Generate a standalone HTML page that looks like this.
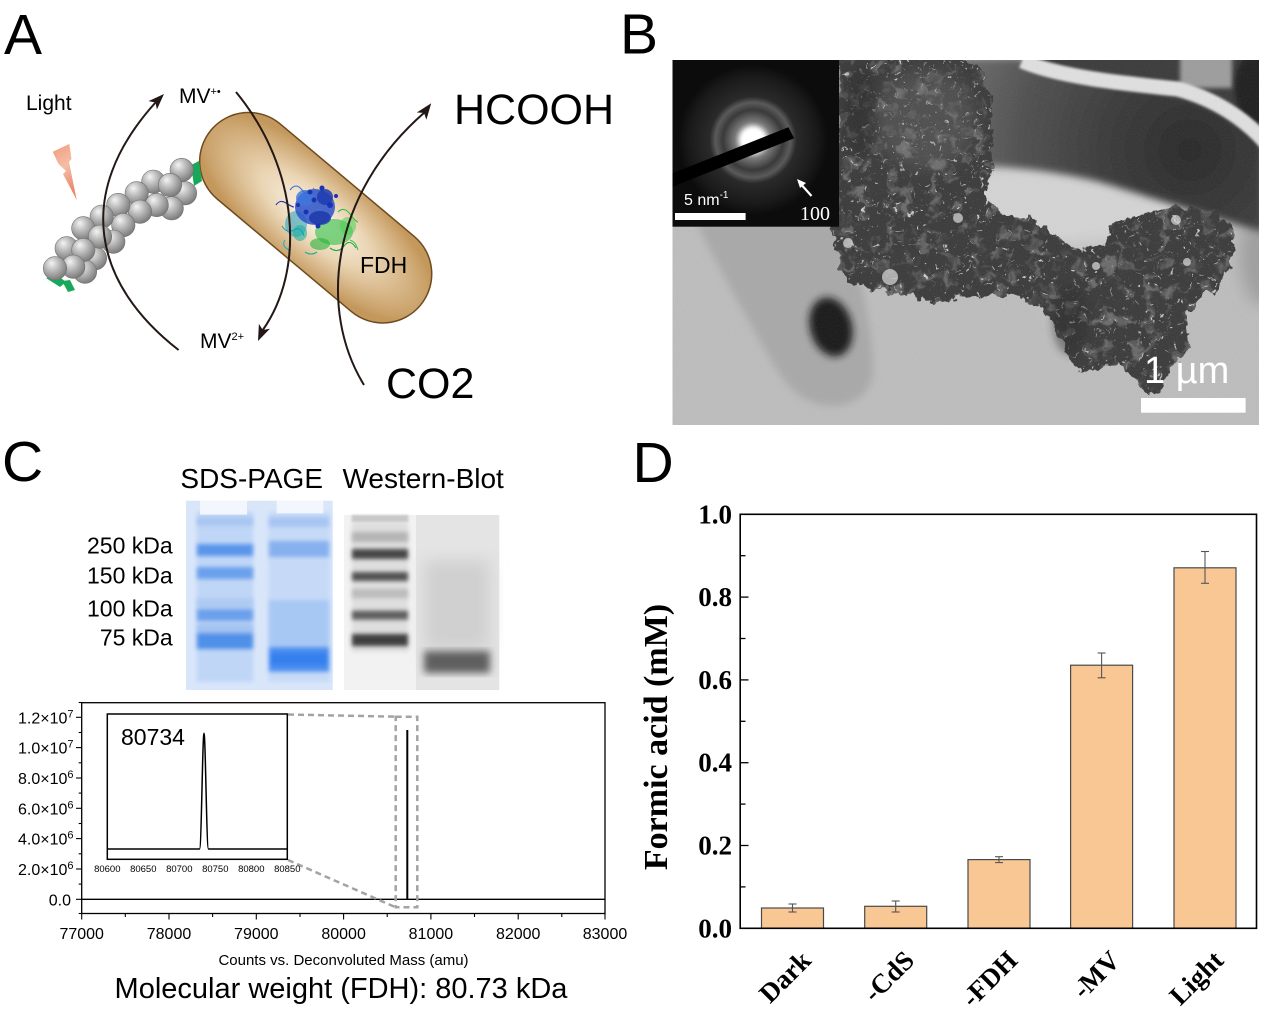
<!DOCTYPE html>
<html><head><meta charset="utf-8"><style>
html,body{margin:0;padding:0;background:#fff;}
svg{display:block;}
</style></head><body>
<svg width="1269" height="1010" viewBox="0 0 1269 1010" xmlns="http://www.w3.org/2000/svg" font-family="'Liberation Sans', Arial, sans-serif">
<defs>
  <radialGradient id="sph" cx="0.4" cy="0.35" r="0.65" fx="0.35" fy="0.28">
    <stop offset="0" stop-color="#f4f4f4"/>
    <stop offset="0.45" stop-color="#bdbdbd"/>
    <stop offset="1" stop-color="#7c7c7c"/>
  </radialGradient>
  <radialGradient id="cap" cx="0.5" cy="0.5" r="0.55">
    <stop offset="0" stop-color="#fcf7ef"/>
    <stop offset="0.45" stop-color="#ead5b4"/>
    <stop offset="1" stop-color="#c4985c"/>
  </radialGradient>
  <linearGradient id="bolt" x1="0" y1="0" x2="0.3" y2="1">
    <stop offset="0" stop-color="#f19b7d"/>
    <stop offset="0.5" stop-color="#f5bda6"/>
    <stop offset="1" stop-color="#e8896a"/>
  </linearGradient>
  <radialGradient id="cellg" gradientUnits="userSpaceOnUse" cx="1190" cy="150" r="230">
    <stop offset="0" stop-color="#262626"/>
    <stop offset="0.4" stop-color="#393939"/>
    <stop offset="0.75" stop-color="#4e4e4e"/>
    <stop offset="1" stop-color="#666"/>
  </radialGradient>
  <radialGradient id="saed" gradientUnits="userSpaceOnUse" cx="753" cy="140" r="75">
    <stop offset="0" stop-color="#ffffff"/>
    <stop offset="0.12" stop-color="#f0f0f0"/>
    <stop offset="0.25" stop-color="#777"/>
    <stop offset="0.4" stop-color="#3a3a3a"/>
    <stop offset="0.5" stop-color="#5a5a5a"/>
    <stop offset="0.58" stop-color="#2a2a2a"/>
    <stop offset="0.85" stop-color="#1a1a1a"/>
    <stop offset="1" stop-color="#0c0c0c"/>
  </radialGradient>
  <filter id="b1" x="-20%" y="-20%" width="140%" height="140%"><feGaussianBlur stdDeviation="1.2"/></filter>
  <filter id="b2" x="-20%" y="-20%" width="140%" height="140%"><feGaussianBlur stdDeviation="2.2"/></filter>
  <filter id="b4" x="-20%" y="-20%" width="140%" height="140%"><feGaussianBlur stdDeviation="4"/></filter>
  <filter id="b8" x="-30%" y="-30%" width="160%" height="160%"><feGaussianBlur stdDeviation="8"/></filter>
  <filter id="grain" x="0" y="0" width="1" height="1">
    <feTurbulence type="fractalNoise" baseFrequency="0.8" numOctaves="1" seed="2"/>
    <feColorMatrix type="saturate" values="0"/>
  </filter>
  <filter id="speck" x="0" y="0" width="1" height="1">
    <feTurbulence type="fractalNoise" baseFrequency="0.25" numOctaves="2" seed="5"/>
    <feColorMatrix type="matrix" values="0 0 0 0 0.85  0 0 0 0 0.85  0 0 0 0 0.85  10 0 0 0 -6.9"/>
  </filter>
  <filter id="blot" x="0" y="0" width="1" height="1">
    <feTurbulence type="fractalNoise" baseFrequency="0.07" numOctaves="3" seed="11"/>
    <feColorMatrix type="matrix" values="0 0 0 0 0.45  0 0 0 0 0.45  0 0 0 0 0.45  4 0 0 0 -2.1"/>
  </filter>
  <filter id="rough" x="-10%" y="-10%" width="120%" height="120%">
    <feTurbulence type="fractalNoise" baseFrequency="0.09" numOctaves="3" seed="4" result="n"/>
    <feDisplacementMap in="SourceGraphic" in2="n" scale="16" xChannelSelector="R" yChannelSelector="G"/>
  </filter>
  <clipPath id="cb"><rect x="672.5" y="60" width="586.5" height="365"/></clipPath>
  <clipPath id="aggclip">
    <path d="M836,150 L840,58 L975,58 L990,95 L995,150 L985,200 L1000,212 L1030,218 L1060,240 L1085,250 L1105,245 L1113,222 L1140,215 L1175,205 L1215,212 L1235,230 L1232,265 L1215,290 L1195,300 L1185,318 L1190,345 L1175,365 L1160,385 L1150,398 L1135,380 L1120,362 L1100,370 L1080,372 L1068,355 L1050,318 L1030,300 L990,292 L960,298 L935,305 L915,295 L880,290 L850,280 L838,260 L830,230 Z"/>
  </clipPath>
</defs>
<rect width="1269" height="1010" fill="#fff"/>

<!-- ================= PANEL A ================= -->
<text x="4" y="54" font-size="57">A</text>
<text x="26" y="110" font-size="21">Light</text>
<text x="179" y="103" font-size="21">MV<tspan font-size="11" dy="-8">+•</tspan></text>
<text x="200" y="348" font-size="21">MV<tspan font-size="11" dy="-8">2+</tspan></text>
<text x="454" y="124" font-size="43">HCOOH</text>
<text x="386" y="398" font-size="43">CO2</text>

<!-- lightning -->
<path d="M52.7,151.7 L69.3,144 L71.5,159 L69,162 L76.7,200 L63,174 L66,171 L58.5,164 Z" fill="url(#bolt)"/>

<!-- capsule -->
<g transform="translate(315.7,217.7) rotate(40)">
  <rect x="-136.5" y="-49" width="273" height="98" rx="49" ry="49" fill="url(#cap)" stroke="#6e4b1f" stroke-width="1.5"/>
</g>
<text x="360" y="273" font-size="23">FDH</text>

<!-- protein blob -->
<g>
  <ellipse cx="296" cy="224" rx="11" ry="13" fill="#1fa0bf" opacity="0.55"/>
  <ellipse cx="334" cy="232" rx="19" ry="13" fill="#2fbf45" opacity="0.6"/>
  <ellipse cx="348" cy="226" rx="8" ry="9" fill="#4ccf55" opacity="0.55"/>
  <ellipse cx="315" cy="207" rx="20" ry="18" fill="#2a52c8" opacity="0.85"/>
  <ellipse cx="305" cy="198" rx="9" ry="8" fill="#3f77dc" opacity="0.8"/>
  <ellipse cx="325" cy="197" rx="8" ry="8" fill="#1d3cb0" opacity="0.85"/>
  <ellipse cx="320" cy="218" rx="11" ry="7" fill="#1c35a8" opacity="0.8"/>
  <ellipse cx="300" cy="233" rx="7" ry="8" fill="#1db0a0" opacity="0.6"/>
  <ellipse cx="320" cy="244" rx="10" ry="6" fill="#27b33a" opacity="0.6"/>
  <g fill="none" stroke-width="1.1">
    <path d="M290,190 q6,-8 12,0 t12,-2" stroke="#3b6fd8"/>
    <path d="M282,226 q5,8 12,4 t10,6" stroke="#16a0c0"/>
    <path d="M330,248 q8,6 14,-2 t12,2" stroke="#22a836"/>
    <path d="M338,212 q6,-6 12,2 t8,8" stroke="#33bb44"/>
    <path d="M276,205 q4,-6 10,-2 t8,4" stroke="#2233aa"/>
    <path d="M305,252 q6,4 12,0" stroke="#1cb090"/>
    <path d="M285,240 q-4,6 4,10" stroke="#20b0c8"/>
    <path d="M350,240 q6,2 8,10" stroke="#44c455"/>
  </g>
  <g fill="#1a33b5">
    <circle cx="310" cy="192" r="2.5"/><circle cx="322" cy="188" r="2.5"/><circle cx="330" cy="205" r="3"/>
    <circle cx="306" cy="212" r="2.5"/><circle cx="318" cy="226" r="2.5"/><circle cx="298" cy="205" r="2"/>
    <circle cx="336" cy="196" r="2"/><circle cx="314" cy="200" r="2.5"/>
  </g>
</g>

<!-- spheres -->
<g fill="#19a85a">
  <polygon points="191,165 199,161 202,181 194,186"/>
  <polygon points="46,278 57,275 66,282 60,287"/>
  <polygon points="62,281 70,280 75,290 68,292"/>
</g>
<g fill="url(#sph)" stroke="#727272" stroke-width="0.6">
  <circle cx="185" cy="193.3" r="11.7"/>
  <circle cx="181.7" cy="170" r="11.7"/>
  <circle cx="153.3" cy="181.7" r="11.7"/>
  <circle cx="171.7" cy="208.3" r="11.7"/>
  <circle cx="156.7" cy="205" r="11.7"/>
  <circle cx="170" cy="185" r="11.7"/>
  <circle cx="136.7" cy="193.3" r="11.7"/>
  <circle cx="140" cy="211.7" r="11.7"/>
  <circle cx="118.3" cy="205" r="11.7"/>
  <circle cx="123.3" cy="225" r="11.7"/>
  <circle cx="101.7" cy="216.7" r="11.7"/>
  <circle cx="113.3" cy="241.7" r="11.7"/>
  <circle cx="83.3" cy="228.3" r="11.7"/>
  <circle cx="95" cy="258.3" r="11.7"/>
  <circle cx="100" cy="236.7" r="11.7"/>
  <circle cx="85" cy="271.7" r="11.7"/>
  <circle cx="66.7" cy="248.3" r="11.7"/>
  <circle cx="83.3" cy="250" r="11.7"/>
  <circle cx="73.3" cy="266.7" r="11.7"/>
  <circle cx="55" cy="268.3" r="11.7"/>
</g>

<!-- arrows -->
<g fill="none" stroke="#231815" stroke-width="2">
  <path d="M178.6,350 C95,285 72,195 155.5,102.5"/>
  <path d="M236,92 C300,170 305,270 262.8,330"/>
  <path d="M364,385 C318,310 330,195 424,112.9"/>
</g>
<g fill="#231815">
  <polygon points="164,94 148.5,101.1 155.5,102.5 156.9,109.5"/>
  <polygon points="258,341 258.9,323.9 262.8,330 269.9,328.7"/>
  <polygon points="431.2,103.3 416.8,112.5 424,112.9 426.4,119.7"/>
</g>

<!-- ================= PANEL B ================= -->
<text x="620" y="53.3" font-size="57">B</text>
<g clip-path="url(#cb)">
  <rect x="672" y="60" width="588" height="366" fill="#bdbdbd"/>
  <!-- lighter area below cell -->
  <ellipse cx="1070" cy="200" rx="120" ry="45" fill="#d4d4d4" filter="url(#b8)"/>
  <ellipse cx="1100" cy="290" rx="60" ry="40" fill="#c6c6c6" filter="url(#b8)"/>
  <!-- right edge cell continuation -->
  <ellipse cx="1262" cy="255" rx="22" ry="50" fill="#9e9e9e" filter="url(#b8)"/>
  <!-- dark cell -->
  <path d="M839,58 L1020,58 C1060,78 1120,84 1175,92 C1215,102 1245,122 1264,142 L1264,232 C1220,220 1160,200 1100,182 C1060,172 1020,168 990,166 C950,166 900,170 839,176 Z" fill="url(#cellg)" filter="url(#b4)"/>
  <!-- above rim -->
  <path d="M1020,56 C1060,72 1120,78 1178,84 C1215,94 1245,114 1264,138 L1264,56 Z" fill="#383838"/>
  <rect x="1180" y="56" width="52" height="32" fill="#9c9c9c" filter="url(#b2)"/>
  <ellipse cx="1255" cy="88" rx="20" ry="36" fill="#1c1c1c" filter="url(#b2)"/>
  <!-- rim -->
  <path d="M1022,61 C1060,77 1120,83 1178,89 C1215,99 1245,119 1266,143" fill="none" stroke="#e0e0e0" stroke-width="15" filter="url(#b1)"/>
  <!-- left cell -->
  <path d="M696,222 L842,222 C862,280 876,340 872,378 C866,402 840,410 818,404 C796,398 782,380 768,355 C745,315 720,270 696,222 Z" fill="#a8a8a8" filter="url(#b4)"/>
  <!-- aggregate -->
  <g filter="url(#rough)">
    <g clip-path="url(#aggclip)">
      <rect x="820" y="56" width="430" height="350" fill="#393939"/>
      <rect x="820" y="56" width="430" height="350" filter="url(#blot)" opacity="0.4"/>
      <rect x="820" y="56" width="430" height="350" filter="url(#speck)" opacity="0.8"/>
    </g>
  </g>
  <ellipse cx="925" cy="120" rx="50" ry="50" fill="#7a7a7a" opacity="0.3" filter="url(#b8)"/>
  <ellipse cx="860" cy="110" rx="16" ry="45" fill="#262626" opacity="0.5" filter="url(#b4)"/>
  <ellipse cx="1070" cy="320" rx="18" ry="35" fill="#262626" opacity="0.45" filter="url(#b4)"/>
  <g fill="#d4d4d4" opacity="0.75">
    <circle cx="890" cy="277" r="8"/><circle cx="958" cy="218" r="5"/>
    <circle cx="1096" cy="266" r="4"/><circle cx="1187" cy="262" r="4"/>
    <circle cx="1176" cy="220" r="5"/><circle cx="848" cy="243" r="5"/>
  </g>
  <!-- dark blob -->
  <ellipse cx="831" cy="327" rx="21" ry="30" transform="rotate(-15 831 327)" fill="#141414" filter="url(#b4)"/>
  <!-- grain -->
  <rect x="672" y="60" width="588" height="366" filter="url(#grain)" opacity="0.12"/>
  <!-- SAED inset -->
  <rect x="672.5" y="60" width="166.5" height="166.7" fill="url(#saed)"/>
  <circle cx="753" cy="140" r="13" fill="#fff" filter="url(#b2)"/>
  <polygon points="672.5,173.3 788.4,127.3 794.2,138.3 672.5,186.7" fill="#000"/>
  <text x="684" y="205" font-size="16" fill="#fff">5 nm<tspan font-size="10" dy="-7">-1</tspan></text>
  <rect x="675" y="213" width="70.6" height="7" fill="#fff"/>
  <text x="800" y="220" font-size="20" fill="#fff" font-family="'Liberation Serif', 'Times New Roman', serif">100</text>
  <line x1="811.5" y1="196" x2="799" y2="182" stroke="#fff" stroke-width="2.2"/>
  <polygon points="797,179 806,183 800,188" fill="#fff"/>
  <!-- scale bar -->
  <text x="1144" y="383" font-size="38" fill="#fff">1 µm</text>
  <rect x="1141" y="398" width="104.6" height="14.7" fill="#fff"/>
</g>

<!-- ================= PANEL C ================= -->
<text x="2" y="481" font-size="57">C</text>
<text x="180.4" y="488" font-size="28">SDS-PAGE</text>
<text x="342.5" y="488" font-size="28">Western-Blot</text>
<g font-size="23" text-anchor="end">
  <text x="172.7" y="553.3">250 kDa</text>
  <text x="172.7" y="583.3">150 kDa</text>
  <text x="172.7" y="616.7">100 kDa</text>
  <text x="172.7" y="645.7">75 kDa</text>
</g>
<!-- SDS gel -->
<rect x="186" y="500.7" width="146.7" height="189.3" fill="#d9e6fa"/>
<rect x="196.7" y="512" width="56.6" height="170" fill="#c0d6f6" filter="url(#b2)"/>
<rect x="268.3" y="512" width="61.7" height="170" fill="#c6daf7" filter="url(#b2)"/>
<rect x="200" y="500.7" width="47" height="14" fill="#f3f7fd"/>
<rect x="276.7" y="500.7" width="46.6" height="12.6" fill="#f3f7fd"/>
<g filter="url(#b2)">
  <rect x="197" y="517" width="56" height="9" fill="#a9c6f2"/>
  <rect x="197" y="544" width="56" height="12" fill="#5a95ea"/>
  <rect x="197" y="567" width="56" height="12" fill="#6aa0ec"/>
  <rect x="197" y="609" width="56" height="12" fill="#6aa0ec"/>
  <rect x="197" y="598" width="56" height="10" fill="#aecaf3"/>
  <rect x="197" y="624" width="56" height="9" fill="#a3c3f2"/>
  <rect x="197" y="633" width="56" height="16" fill="#5090e8"/>
  <rect x="269" y="517" width="60" height="10" fill="#a7c5f2"/>
  <rect x="269" y="541" width="60" height="16" fill="#86b0ee"/>
  <rect x="269" y="600" width="60" height="46" fill="#a8c8f4"/>
  <rect x="269" y="646.7" width="60" height="25" fill="#4b8ff0"/>
  <rect x="270" y="653" width="58" height="12" fill="#3580ee"/>
</g>
<!-- Western blot -->
<rect x="344" y="515" width="72" height="175" fill="#f2f2f2"/>
<rect x="416" y="515" width="83.3" height="175" fill="#e4e4e4"/>
<rect x="351.7" y="522" width="56.6" height="130" fill="#dedede" filter="url(#b2)"/>
<rect x="351.7" y="515" width="56.6" height="7" fill="#c8c8c8" filter="url(#b1)"/>
<g filter="url(#b2)">
  <rect x="352" y="532" width="56" height="10" fill="#b5b5b5"/>
  <rect x="352" y="549" width="56" height="10" fill="#464646"/>
  <rect x="352" y="572" width="56" height="9" fill="#525252"/>
  <rect x="352" y="589" width="56" height="9" fill="#bcbcbc"/>
  <rect x="352" y="610.7" width="56" height="9" fill="#5e5e5e"/>
  <rect x="352" y="634" width="56" height="12" fill="#404040"/>
</g>
<rect x="424" y="560" width="66" height="90" fill="#d0d0d0" filter="url(#b8)"/>
<rect x="424" y="651" width="66" height="22" fill="#5e5e5e" filter="url(#b4)"/>

<!-- MS chart -->
<g stroke="#000" stroke-width="1.3" fill="none">
  <rect x="81.7" y="702.7" width="523.3" height="210.8"/>
</g>
<!-- y ticks -->
<g stroke="#000" stroke-width="1.1">
  <line x1="76" y1="717.3" x2="81.7" y2="717.3"/>
  <line x1="76" y1="747.6" x2="81.7" y2="747.6"/>
  <line x1="76" y1="778" x2="81.7" y2="778"/>
  <line x1="76" y1="808.3" x2="81.7" y2="808.3"/>
  <line x1="76" y1="838.6" x2="81.7" y2="838.6"/>
  <line x1="76" y1="869" x2="81.7" y2="869"/>
  <line x1="76" y1="899.3" x2="81.7" y2="899.3"/>
  <line x1="78.7" y1="702.5" x2="81.7" y2="702.5"/>
  <line x1="78.7" y1="732.5" x2="81.7" y2="732.5"/>
  <line x1="78.7" y1="762.8" x2="81.7" y2="762.8"/>
  <line x1="78.7" y1="793.1" x2="81.7" y2="793.1"/>
  <line x1="78.7" y1="823.5" x2="81.7" y2="823.5"/>
  <line x1="78.7" y1="853.8" x2="81.7" y2="853.8"/>
  <line x1="78.7" y1="884.1" x2="81.7" y2="884.1"/>
  <line x1="78.7" y1="913.5" x2="81.7" y2="913.5"/>
  <!-- x ticks -->
  <line x1="81.7" y1="913.5" x2="81.7" y2="919.5"/>
  <line x1="169" y1="913.5" x2="169" y2="919.5"/>
  <line x1="256.3" y1="913.5" x2="256.3" y2="919.5"/>
  <line x1="343.6" y1="913.5" x2="343.6" y2="919.5"/>
  <line x1="430.9" y1="913.5" x2="430.9" y2="919.5"/>
  <line x1="518.2" y1="913.5" x2="518.2" y2="919.5"/>
  <line x1="605" y1="913.5" x2="605" y2="919.5"/>
  <line x1="125.3" y1="913.5" x2="125.3" y2="917"/>
  <line x1="212.6" y1="913.5" x2="212.6" y2="917"/>
  <line x1="300" y1="913.5" x2="300" y2="917"/>
  <line x1="387.2" y1="913.5" x2="387.2" y2="917"/>
  <line x1="474.5" y1="913.5" x2="474.5" y2="917"/>
  <line x1="561.8" y1="913.5" x2="561.8" y2="917"/>
</g>
<g font-size="16" text-anchor="end">
  <text x="73.5" y="723.3">1.2×10<tspan font-size="11" dy="-6">7</tspan></text>
  <text x="73.5" y="753.6">1.0×10<tspan font-size="11" dy="-6">7</tspan></text>
  <text x="73.5" y="784">8.0×10<tspan font-size="11" dy="-6">6</tspan></text>
  <text x="73.5" y="814.3">6.0×10<tspan font-size="11" dy="-6">6</tspan></text>
  <text x="73.5" y="844.6">4.0×10<tspan font-size="11" dy="-6">6</tspan></text>
  <text x="73.5" y="875">2.0×10<tspan font-size="11" dy="-6">6</tspan></text>
  <text x="71" y="905.3">0.0</text>
</g>
<g font-size="16" text-anchor="middle">
  <text x="81.7" y="939">77000</text>
  <text x="169" y="939">78000</text>
  <text x="256.3" y="939">79000</text>
  <text x="343.6" y="939">80000</text>
  <text x="430.9" y="939">81000</text>
  <text x="518.2" y="939">82000</text>
  <text x="605" y="939">83000</text>
</g>
<text x="343.5" y="965" font-size="15" text-anchor="middle">Counts vs. Deconvoluted Mass (amu)</text>
<text x="341" y="998" font-size="29" text-anchor="middle">Molecular weight (FDH): 80.73 kDa</text>

<!-- zero line and peak -->
<line x1="81.7" y1="899.3" x2="605" y2="899.3" stroke="#000" stroke-width="1.4"/>
<line x1="407.3" y1="899.3" x2="407.3" y2="730" stroke="#000" stroke-width="2"/>
<!-- dashed zoom box -->
<g fill="none" stroke="#a3a3a3" stroke-width="2.5" stroke-dasharray="6 4">
  <rect x="395.7" y="716.7" width="21.6" height="190.6"/>
  <line x1="288" y1="714.5" x2="395.7" y2="716.7"/>
  <line x1="288" y1="860" x2="395.7" y2="907.3"/>
</g>
<!-- inset -->
<rect x="107.3" y="714" width="180" height="145.3" fill="#fff" stroke="#000" stroke-width="1.5"/>
<path d="M107.3,849 L199.5,849 C201.5,849 202.5,733.3 204,733.3 C205.5,733.3 206.5,849 208.5,849 L287.3,849" fill="none" stroke="#000" stroke-width="1.5"/>
<text x="121" y="745" font-size="23">80734</text>
<g font-size="9.5" text-anchor="middle">
  <text x="107.3" y="872">80600</text>
  <text x="143.3" y="872">80650</text>
  <text x="179.3" y="872">80700</text>
  <text x="215.3" y="872">80750</text>
  <text x="251.3" y="872">80800</text>
  <text x="287.3" y="872">80850</text>
</g>

<!-- ================= PANEL D ================= -->
<text x="632.5" y="482" font-size="57">D</text>
<g font-family="'Liberation Serif', 'Times New Roman', serif" font-weight="bold">
  <!-- bars -->
  <g fill="#f8c794" stroke="#4a4a4a" stroke-width="1.2">
    <rect x="761.5" y="908" width="62" height="20.3"/>
    <rect x="864.7" y="906.3" width="62" height="22"/>
    <rect x="968" y="859.6" width="62" height="68.7"/>
    <rect x="1070.6" y="665.2" width="62" height="263.1"/>
    <rect x="1174" y="567.8" width="62" height="360.5"/>
  </g>
  <!-- error bars -->
  <g stroke="#555" stroke-width="1.1">
    <line x1="792.5" y1="904" x2="792.5" y2="912"/><line x1="788.5" y1="904" x2="796.5" y2="904"/><line x1="788.5" y1="912" x2="796.5" y2="912"/>
    <line x1="895.7" y1="901" x2="895.7" y2="912"/><line x1="891.7" y1="901" x2="899.7" y2="901"/><line x1="891.7" y1="912" x2="899.7" y2="912"/>
    <line x1="999" y1="856.7" x2="999" y2="862.6"/><line x1="995" y1="856.7" x2="1003" y2="856.7"/><line x1="995" y1="862.6" x2="1003" y2="862.6"/>
    <line x1="1101.6" y1="653" x2="1101.6" y2="677.8"/><line x1="1097.6" y1="653" x2="1105.6" y2="653"/><line x1="1097.6" y1="677.8" x2="1105.6" y2="677.8"/>
    <line x1="1205" y1="551.5" x2="1205" y2="583.3"/><line x1="1201" y1="551.5" x2="1209" y2="551.5"/><line x1="1201" y1="583.3" x2="1209" y2="583.3"/>
  </g>
  <!-- axes box -->
  <rect x="740.2" y="514.3" width="516.3" height="414" fill="none" stroke="#000" stroke-width="1.6"/>
  <g stroke="#000" stroke-width="1.3">
    <line x1="740.2" y1="845.5" x2="748.5" y2="845.5"/>
    <line x1="740.2" y1="762.7" x2="748.5" y2="762.7"/>
    <line x1="740.2" y1="679.9" x2="748.5" y2="679.9"/>
    <line x1="740.2" y1="597.1" x2="748.5" y2="597.1"/>
    <line x1="740.2" y1="886.9" x2="745.5" y2="886.9"/>
    <line x1="740.2" y1="804.1" x2="745.5" y2="804.1"/>
    <line x1="740.2" y1="721.3" x2="745.5" y2="721.3"/>
    <line x1="740.2" y1="638.5" x2="745.5" y2="638.5"/>
    <line x1="740.2" y1="555.7" x2="745.5" y2="555.7"/>
  </g>
  <g font-size="27" text-anchor="end">
    <text x="732" y="937.3">0.0</text>
    <text x="732" y="854.5">0.2</text>
    <text x="732" y="771.7">0.4</text>
    <text x="732" y="688.9">0.6</text>
    <text x="732" y="606.1">0.8</text>
    <text x="732" y="523.3">1.0</text>
  </g>
  <text transform="translate(667,737) rotate(-90)" font-size="34" text-anchor="middle">Formic acid (mM)</text>
  <g font-size="27" text-anchor="end">
    <text transform="translate(812.5,962) rotate(-45)">Dark</text>
    <text transform="translate(915.7,962) rotate(-45)">-CdS</text>
    <text transform="translate(1019,962) rotate(-45)">-FDH</text>
    <text transform="translate(1121.6,962) rotate(-45)">-MV</text>
    <text transform="translate(1225,962) rotate(-45)">Light</text>
  </g>
</g>
</svg>
</body></html>
